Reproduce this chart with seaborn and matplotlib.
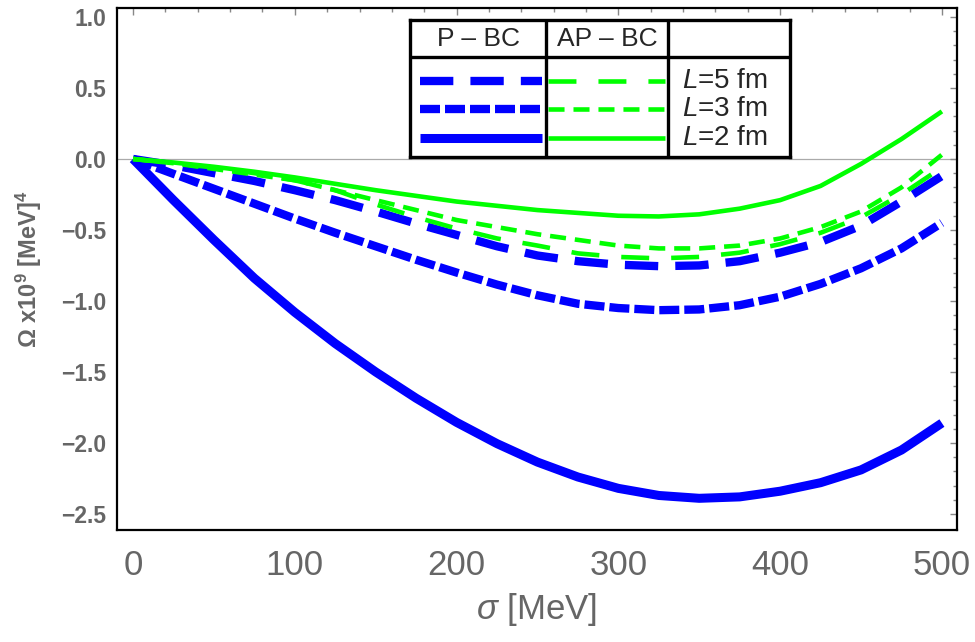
import numpy as np
import pandas as pd
import matplotlib
matplotlib.use("Agg")
import matplotlib.pyplot as plt
import seaborn as sns

# sigma grid [MeV] and Omega x 1e9 [MeV^4]
sigma = [0, 25, 50, 75, 100, 125, 150, 175, 200, 225, 250,
         275, 300, 325, 350, 375, 400, 425, 450, 475, 500]

# periodic boundary conditions (P-BC)
p_L5 = [0, -0.045, -0.10, -0.155, -0.22, -0.29, -0.37, -0.455, -0.535, -0.615, -0.68,
        -0.72, -0.745, -0.755, -0.75, -0.72, -0.66, -0.585, -0.47, -0.30, -0.12]
p_L3 = [0, -0.105, -0.21, -0.315, -0.42, -0.52, -0.615, -0.71, -0.80, -0.885, -0.96,
        -1.02, -1.05, -1.065, -1.06, -1.03, -0.97, -0.88, -0.77, -0.63, -0.45]
p_L2 = [0, -0.29, -0.57, -0.84, -1.08, -1.30, -1.50, -1.685, -1.855, -2.005, -2.135,
        -2.24, -2.32, -2.37, -2.39, -2.38, -2.34, -2.28, -2.19, -2.05, -1.86]

# anti-periodic boundary conditions (AP-BC)
ap_L5 = [0, -0.03, -0.06, -0.10, -0.15, -0.22, -0.32, -0.41, -0.49, -0.56, -0.61,
         -0.665, -0.69, -0.70, -0.69, -0.66, -0.60, -0.52, -0.41, -0.25, -0.06]
ap_L3 = [0, -0.03, -0.07, -0.11, -0.15, -0.22, -0.29, -0.36, -0.43, -0.48, -0.53,
         -0.57, -0.61, -0.63, -0.63, -0.61, -0.56, -0.48, -0.37, -0.20, 0.03]
ap_L2 = [0, -0.025, -0.055, -0.09, -0.13, -0.175, -0.22, -0.26, -0.30, -0.33, -0.36,
         -0.38, -0.40, -0.405, -0.39, -0.35, -0.29, -0.19, -0.035, 0.14, 0.335]

blue = "#0000ff"
green = "#00ff00"
gray = "#666666"

# style for each curve: colour, linewidth, dash pattern (in units of lw)
styles = {
    "P L5": (blue, 6.0, (4.0, 2.05)),
    "P L3": (blue, 6.0, (2.4, 0.6)),
    "P L2": (blue, 6.5, None),
    "AP L5": (green, 3.3, (6.1, 4.8)),
    "AP L3": (green, 3.3, (3.5, 1.95)),
    "AP L2": (green, 3.3, None),
}
series = {"P L5": p_L5, "P L3": p_L3, "P L2": p_L2,
          "AP L5": ap_L5, "AP L3": ap_L3, "AP L2": ap_L2}

sns.set_style("white")
plt.rcParams["font.family"] = ["Liberation Sans", "DejaVu Sans"]
plt.rcParams["mathtext.fontset"] = "custom"
plt.rcParams["mathtext.rm"] = "Liberation Sans"
plt.rcParams["mathtext.it"] = "Liberation Sans:italic"
plt.rcParams["mathtext.bf"] = "Liberation Sans:bold"
plt.rcParams["lines.solid_capstyle"] = "butt"

fig = plt.figure(figsize=(9.75, 6.42), dpi=100)
ax = fig.add_axes([0.120, 0.1745, 0.8615, 0.813])

ax.axhline(0, color="#aaaaaa", lw=0.9, zorder=0)

for name, vals in series.items():
    col, lw, dash = styles[name]
    df = pd.DataFrame({"sigma": sigma, "omega": vals})
    ls = "-" if dash is None else (0, dash)
    sns.lineplot(data=df, x="sigma", y="omega", ax=ax, color=col, lw=lw,
                 linestyle=ls, estimator=None, sort=False,
                 solid_capstyle="butt", solid_joinstyle="round")

ax.set_xlim(-9.9, 509.3)
ax.set_ylim(-2.613, 1.063)
ax.set_xticks(np.arange(0, 501, 100))
ax.set_xticks(np.arange(0, 501, 20), minor=True)
ax.set_yticks(np.arange(-2.5, 1.01, 0.5))
ax.set_yticks(np.arange(-2.5, 1.01, 0.1), minor=True)
ax.set_yticklabels([f"{v:.1f}".replace("-", "\u2212") for v in np.arange(-2.5, 1.01, 0.5)])

ax.tick_params(which="both", direction="in", top=True, right=True, color="#888888", width=1)
ax.tick_params(which="major", length=5)
ax.tick_params(which="minor", length=3)
ax.tick_params(axis="x", labelsize=25, labelcolor=gray, pad=14)
ax.tick_params(axis="y", labelsize=16.5, labelcolor=gray, pad=8)
for lab in ax.get_yticklabels():
    lab.set_fontweight("bold")
for sp in ax.spines.values():
    sp.set_color("black")
    sp.set_linewidth(1.6)

ax.set_xlabel(r"$\sigma$ [MeV]", fontsize=25, color=gray, labelpad=6)
ax.set_ylabel("\u03a9 x10$^\\mathbf{9}$ [MeV]$^\\mathbf{4}$", fontsize=17,
              fontweight="bold", color=gray, labelpad=12)

# table-style legend drawn in its own small axes
lax = fig.add_axes([0.4205, 0.7555, 0.3898, 0.2133])
lax.set_xlim(0, 1)
lax.set_ylim(0, 1)
lax.set_xticks([])
lax.set_yticks([])
for sp in lax.spines.values():
    sp.set_color("black")
    sp.set_linewidth(2.4)
for xv in [0.358, 0.679]:
    lax.axvline(xv, color="black", lw=2.4)
lax.axhline(0.73, color="black", lw=2.4)
lax.text(0.179, 0.865, "P \u2013 BC", ha="center", va="center", fontsize=19)
lax.text(0.5185, 0.865, "AP \u2013 BC", ha="center", va="center", fontsize=19)

rows = [("5", 0.557), ("3", 0.35), ("2", 0.141)]
for L, yv in rows:
    pcol, plw, pd_ = styles["P L" + L]
    acol, alw, ad_ = styles["AP L" + L]
    lax.plot([0.026, 0.347], [yv, yv], color=pcol, lw=plw, solid_capstyle="butt",
             linestyle="-" if pd_ is None else (0, pd_))
    lax.plot([0.363, 0.671], [yv, yv], color=acol, lw=alw, solid_capstyle="butt",
             linestyle="-" if ad_ is None else (0, ad_))
    lax.text(0.715, yv, rf"$L$={L} fm", ha="left", va="center", fontsize=20)

fig.savefig("out.png", dpi=100)
